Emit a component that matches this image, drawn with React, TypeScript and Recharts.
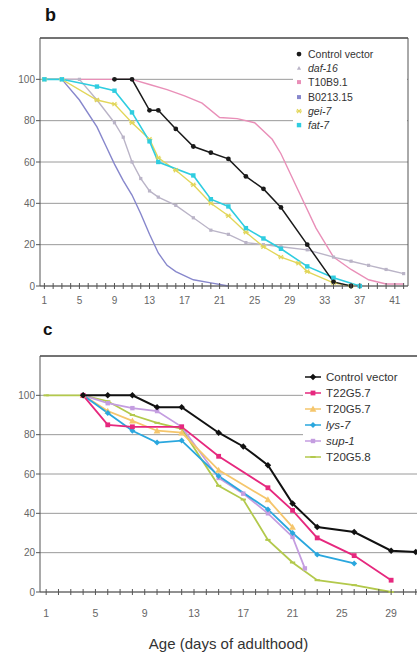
import React from 'react';
import { LineChart, Line, XAxis, YAxis, CartesianGrid, ReferenceLine, Legend } from 'recharts';

// ---------- Panel b data (day, % alive) ----------
const controlB: [number, number][] = [[9,100],[11,100],[13,85],[14,85],[16,76],[18,67.5],[20,64.5],[22,61.5],[24,53],[26,47],[28,38],[31,20],[34,2],[36,0]];
const daf16B: [number, number][] = [[1,100],[5,100],[7,90],[9,79],[10,72],[11,60],[12,52],[13,46],[14,43],[16,39],[18,33],[20,27],[22,25],[24,21],[26,20],[28,19],[31,17.5],[34,14],[36,12],[38,10],[40,8],[42,6]];
const t10b91B: [number, number][] = [[1,100],[11,100],[13,97.5],[15,95],[17,92],[19,88.5],[21,81.5],[23,81],[25,79],[27,71],[28,64],[30,46],[32,28],[34,14],[36,8],[38,3],[40,1],[42,1]];
const b021315B: [number, number][] = [[1,100],[3,100],[5,90],[7,77],[8,68],[9,59],[10,51],[11,44],[12,35],[13,25],[14,16],[15,10],[16,7],[18,3],[20,1.5],[22,0]];
const gei7B: [number, number][] = [[1,100],[3,100],[7,90],[9,88],[11,79],[13,71],[14,62],[16,56],[18,49],[20,40],[22,34],[24,26],[26,19],[28,14],[30,11],[31,7],[34,1.5],[36,0]];
const fat7B: [number, number][] = [[1,100],[3,100],[7,96.5],[9,94.5],[11,84],[13,70],[14,60],[18,53.5],[20,42],[22,38.5],[24,28],[26,23],[28,18],[31,9.5],[34,4],[37,0]];

// ---------- Panel c data ----------
const controlC: [number, number][] = [[4,100],[6,100],[8,100],[10,94],[12,94],[15,81],[17,74],[19,64.5],[21,45],[23,33],[26,30.5],[29,21],[31,20.3]];
const t22g57C: [number, number][] = [[4,100],[6,85],[8,84],[12,84],[15,69],[19,53],[21,41.5],[23,27.5],[26,18.5],[29,6]];
const t20g57C: [number, number][] = [[4,100],[6,92],[8,87],[10,82],[12,81],[15,62],[19,47],[21,33]];
const lys7C: [number, number][] = [[4,100],[6,91],[8,82],[10,76],[12,77],[15,59],[19,42],[21,30],[23,19],[26,14.5]];
const sup1C: [number, number][] = [[4,100],[6,96],[8,93.5],[10,92],[12,84],[15,58],[17,50],[19,40],[21,28],[22,12]];
const t20g58C: [number, number][] = [[1,100],[4,100],[6,97],[8,90],[10,86],[12,83],[15,54],[17,47],[19,26.5],[21,15],[23,6],[26,3.5],[29,0]];

// ---------- ticks ----------
const yTicks = [0, 20, 40, 60, 80, 100];
const xLabelsB = [1, 5, 9, 13, 17, 21, 25, 29, 33, 37, 41];
const xLabelsC = [1, 5, 9, 13, 17, 21, 25, 29];
const minorTicksB = Array.from({ length: 42 }, (_, i) => i + 1);
const minorTicksC = Array.from({ length: 31 }, (_, i) => i + 1);

const toRows = (arr: [number, number][]) => arr.map(([day, v]) => ({ day, v }));

type SeriesDef = { name: string; data: [number, number][]; color: string; shape: string | null; legendShape: string; width: number; size: number; italic?: boolean };

const seriesB: SeriesDef[] = [
  { name: 'T10B9.1', data: t10b91B, color: '#e98fb8', shape: null, legendShape: 'square', width: 1.4, size: 2 },
  { name: 'B0213.15', data: b021315B, color: '#8787cc', shape: null, legendShape: 'square', width: 1.4, size: 2 },
  { name: 'daf-16', data: daf16B, color: '#bab4c7', shape: 'square', legendShape: 'triangle', width: 1.4, size: 1.6, italic: true },
  { name: 'gei-7', data: gei7B, color: '#e2d65a', shape: 'star', legendShape: 'star', width: 1.4, size: 2.2, italic: true },
  { name: 'fat-7', data: fat7B, color: '#2fcde0', shape: 'square', legendShape: 'square', width: 1.6, size: 2.2, italic: true },
  { name: 'Control vector', data: controlB, color: '#1a1a1a', shape: 'circle', legendShape: 'circle', width: 1.5, size: 2.4 },
];
const legendOrderB = ['Control vector', 'daf-16', 'T10B9.1', 'B0213.15', 'gei-7', 'fat-7'];

const seriesC: SeriesDef[] = [
  { name: 'T20G5.8', data: t20g58C, color: '#b3c94c', shape: 'dash', legendShape: 'dash', width: 1.8, size: 2.2 },
  { name: 'sup-1', data: sup1C, color: '#c49de0', shape: 'square', legendShape: 'square', width: 1.8, size: 2.2, italic: true },
  { name: 'T20G5.7', data: t20g57C, color: '#f5c66c', shape: 'triangle', legendShape: 'triangle', width: 1.8, size: 2.6 },
  { name: 'lys-7', data: lys7C, color: '#2aa7de', shape: 'diamond', legendShape: 'diamond', width: 1.8, size: 2.2, italic: true },
  { name: 'T22G5.7', data: t22g57C, color: '#e6287e', shape: 'square', legendShape: 'square', width: 1.8, size: 2.4 },
  { name: 'Control vector', data: controlC, color: '#111111', shape: 'diamond', legendShape: 'diamond', width: 2, size: 2.4 },
];
const legendOrderC = ['Control vector', 'T22G5.7', 'T20G5.7', 'lys-7', 'sup-1', 'T20G5.8'];

function Shape({ shape, cx, cy, size, fill }: any) {
  if (cx == null || cy == null) return null;
  switch (shape) {
    case 'circle':
      return <circle cx={cx} cy={cy} r={size} fill={fill} />;
    case 'square':
      return <rect x={cx - size} y={cy - size} width={size * 2} height={size * 2} fill={fill} />;
    case 'diamond': {
      const s = size * 1.35;
      return <polygon points={`${cx},${cy - s} ${cx + s},${cy} ${cx},${cy + s} ${cx - s},${cy}`} fill={fill} />;
    }
    case 'triangle': {
      const s = size * 1.3;
      return <polygon points={`${cx},${cy - s} ${cx + s},${cy + s * 0.8} ${cx - s},${cy + s * 0.8}`} fill={fill} />;
    }
    case 'star': {
      const s = size * 1.3;
      return (
        <g stroke={fill} strokeWidth={1.2}>
          <line x1={cx - s} y1={cy} x2={cx + s} y2={cy} />
          <line x1={cx - s * 0.7} y1={cy - s * 0.7} x2={cx + s * 0.7} y2={cy + s * 0.7} />
          <line x1={cx - s * 0.7} y1={cy + s * 0.7} x2={cx + s * 0.7} y2={cy - s * 0.7} />
        </g>
      );
    }
    case 'dash':
      return <rect x={cx - size * 1.2} y={cy - 1} width={size * 2.4} height={2} fill={fill} />;
    default:
      return null;
  }
}

const makeTick = (labels: number[], fontSize: number, labelDy: number) => (props: any) => {
  const { x, y, payload } = props;
  const v = payload.value;
  return (
    <g>
      <line x1={x} x2={x} y1={y - 3} y2={y + 3} stroke="#555" strokeWidth={1} />
      {labels.includes(v) && (
        <text x={x} y={y + labelDy} textAnchor="middle" fontSize={fontSize} fill="#666" fontFamily="Liberation Sans, Arial, sans-serif">
          {v}
        </text>
      )}
    </g>
  );
};

function LegendBox({ items, rowH, fontSize, lineLen }: { items: SeriesDef[]; rowH: number; fontSize: number; lineLen: number }) {
  return (
    <div style={{ background: '#fff', fontFamily: 'Liberation Sans, Arial, sans-serif', fontSize, color: '#333' }}>
      {items.map((s) => (
        <div key={s.name} style={{ height: rowH, display: 'flex', alignItems: 'center', whiteSpace: 'nowrap' }}>
          <svg width={lineLen + 4} height={rowH} style={{ flex: 'none' }}>
            {lineLen > 10 && <line x1={2} x2={lineLen + 2} y1={rowH / 2} y2={rowH / 2} stroke={s.color} strokeWidth={1.5} />}
            <Shape shape={s.legendShape} cx={(lineLen + 4) / 2} cy={rowH / 2} size={s.size} fill={s.color} />
          </svg>
          <span style={{ marginLeft: 3, fontStyle: s.italic ? 'italic' : 'normal' }}>{s.name}</span>
        </div>
      ))}
    </div>
  );
}

const font = 'Liberation Sans, Arial, sans-serif';

export default function App() {
  const legendB = legendOrderB.map((n) => seriesB.find((s) => s.name === n)!);
  const legendC = legendOrderC.map((n) => seriesC.find((s) => s.name === n)!);
  return (
    <div style={{ position: 'absolute', left: 0, top: 0, width: 417, height: 653, background: '#fff', overflow: 'hidden' }}>
      <div style={{ position: 'absolute', left: 45, top: 5, fontFamily: font, fontWeight: 'bold', fontSize: 18, color: '#111' }}>b</div>
      <div style={{ position: 'absolute', left: 43, top: 320, fontFamily: font, fontWeight: 'bold', fontSize: 17, color: '#111' }}>c</div>

      <div style={{ position: 'absolute', left: 0, top: 0 }}>
        <LineChart width={417} height={310} margin={{ top: 38, right: 9, left: 0, bottom: 0 }}>
          <CartesianGrid horizontal vertical={false} stroke="#9a9a9a" />
          <XAxis dataKey="day" type="number" domain={[0.5, 42.5]} ticks={minorTicksB} interval={0} height={24}
            tickSize={0} tickMargin={0} tickLine={false} axisLine={{ stroke: '#555' }} tick={makeTick(xLabelsB, 10, 18)} allowDuplicatedCategory={false} />
          <YAxis type="number" domain={[0, 120]} ticks={yTicks} width={40} tickSize={4} tickMargin={1}
            axisLine={{ stroke: '#555' }} tickLine={{ stroke: '#555' }} tick={{ fontSize: 10, fill: '#666', fontFamily: font }} />
          <ReferenceLine y={120} stroke="#555" strokeWidth={1.5} />
          <ReferenceLine x={42.5} stroke="#555" strokeWidth={1} />
          {seriesB.map((s) => (
            <Line key={s.name} data={toRows(s.data)} dataKey="v" name={s.name} type="linear" stroke={s.color} strokeWidth={s.width}
              isAnimationActive={false}
              dot={s.shape ? (p: any) => <Shape key={`${s.name}-${p.index}`} shape={s.shape} cx={p.cx} cy={p.cy} size={s.size} fill={s.color} /> : false}
              activeDot={false} />
          ))}
          <Legend layout="vertical" align="center" verticalAlign="middle"
            wrapperStyle={{ left: 293, top: 47, width: 114, height: 88 }}
            content={() => <LegendBox items={legendB} rowH={14.2} fontSize={10.5} lineLen={8} />} />
        </LineChart>
      </div>

      <div style={{ position: 'absolute', left: 0, top: 310 }}>
        <LineChart width={417} height={343} margin={{ top: 46, right: 0, left: 0, bottom: 0 }}>
          <CartesianGrid horizontal vertical={false} stroke="#9a9a9a" />
          <XAxis dataKey="day" type="number" domain={[0.5, 31.1]} ticks={minorTicksC} interval={0} height={61}
            tickSize={0} tickMargin={0} tickLine={false} axisLine={{ stroke: '#555' }} tick={makeTick(xLabelsC, 10.5, 25)} allowDuplicatedCategory={false}
            label={{ value: 'Age (days of adulthood)', position: 'insideBottom', offset: 4, fontSize: 15, fill: '#333', fontFamily: font }} />
          <YAxis type="number" domain={[0, 120]} ticks={yTicks} width={40} tickSize={4} tickMargin={1}
            axisLine={{ stroke: '#555' }} tickLine={{ stroke: '#555' }} tick={{ fontSize: 10, fill: '#666', fontFamily: font }} />
          <ReferenceLine y={120} stroke="#555" strokeWidth={1.5} />
          {seriesC.map((s) => (
            <Line key={s.name} data={toRows(s.data)} dataKey="v" name={s.name} type="linear" stroke={s.color} strokeWidth={s.width}
              isAnimationActive={false}
              dot={s.shape ? (p: any) => <Shape key={`${s.name}-${p.index}`} shape={s.shape} cx={p.cx} cy={p.cy} size={s.size} fill={s.color} /> : false}
              activeDot={false} />
          ))}
          <Legend layout="vertical" align="center" verticalAlign="middle"
            wrapperStyle={{ left: 303, top: 59, width: 114, height: 96 }}
            content={() => <LegendBox items={legendC} rowH={16} fontSize={11.5} lineLen={16} />} />
        </LineChart>
      </div>
    </div>
  );
}
